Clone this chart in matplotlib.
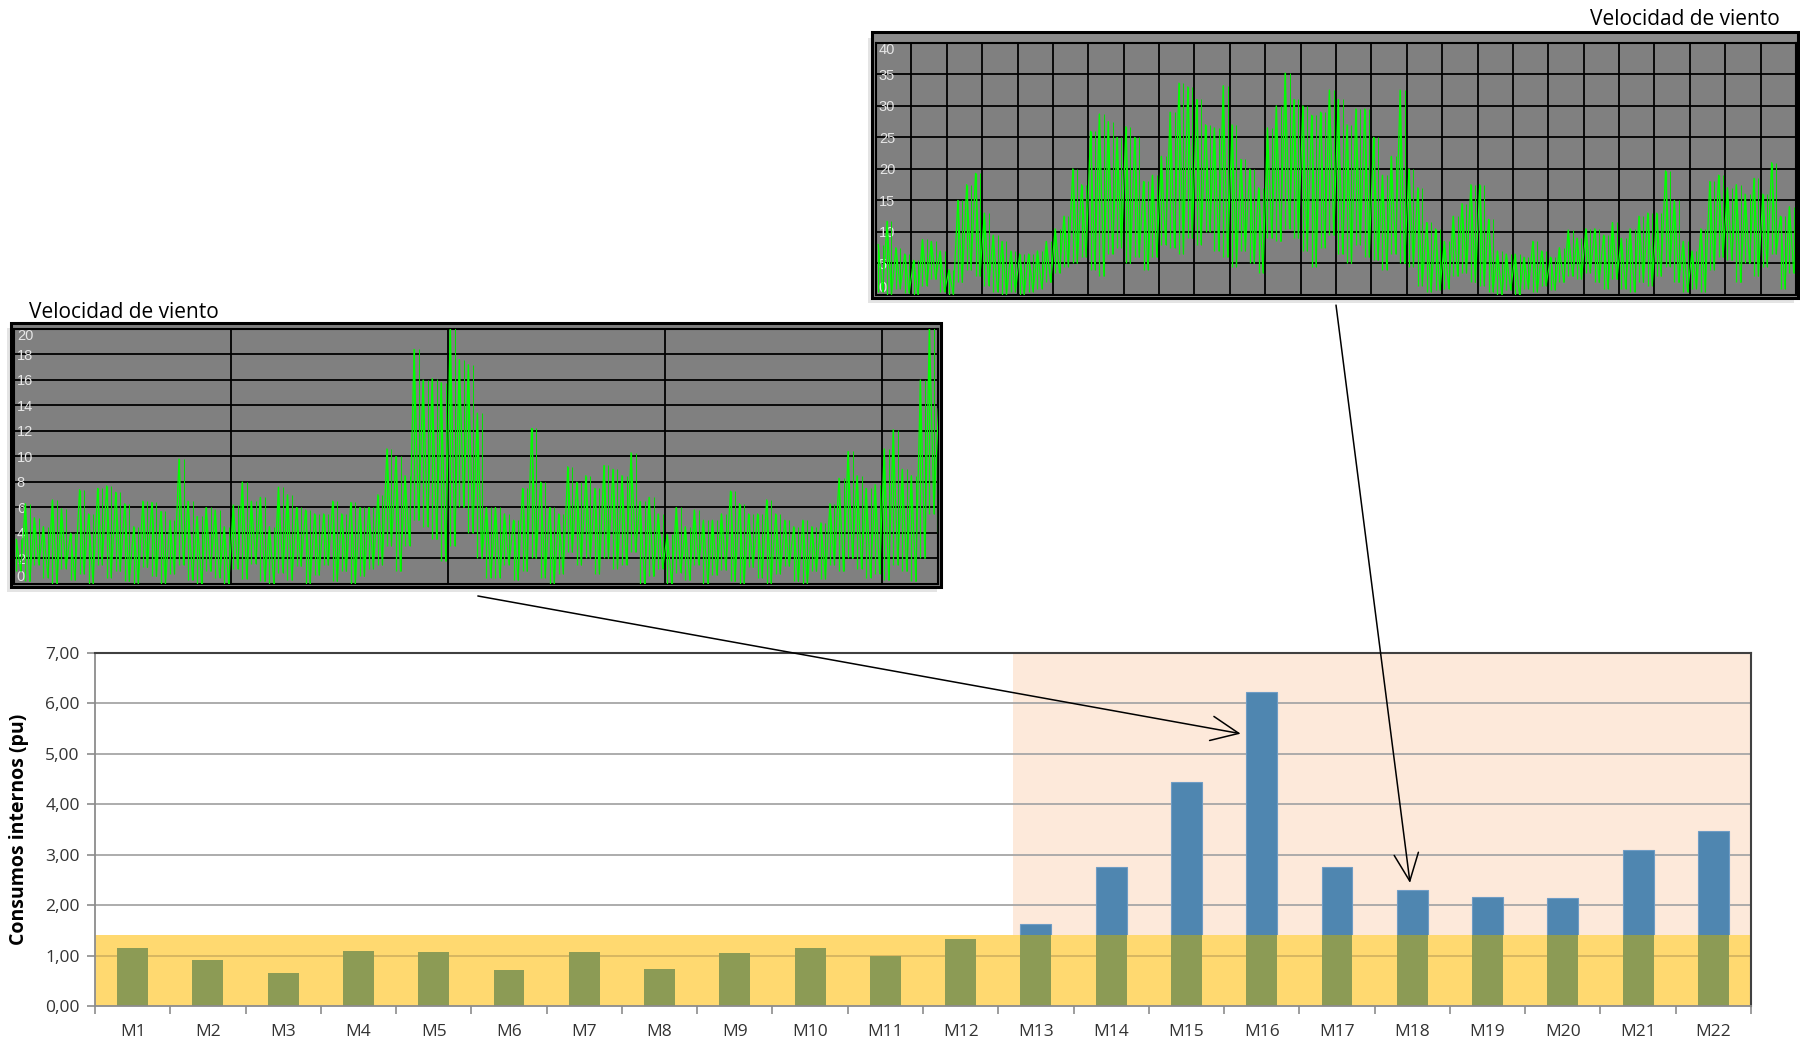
import numpy as np
import matplotlib.pyplot as plt
from matplotlib.patches import Rectangle

plt.rcParams['font.family'] = ['Open Sans', 'DejaVu Sans']

# consumos internos por medida
meses = ['M%d' % i for i in range(1, 23)]
consumos = [1.16, 0.91, 0.66, 1.09, 1.07, 0.71, 1.07, 0.73, 1.05, 1.16, 1.00,
            1.32, 1.62, 2.76, 4.45, 6.22, 2.76, 2.30, 2.17, 2.14, 3.10, 3.47]
limite = 1.4        # franja amarilla
inicio_zona = 11.7  # zona sombreada (M13 en adelante)

# velocidad de viento, grafico de abajo: max/min por hora
v1_max = [3.5, 6.3, 5.2, 4.5, 6.6, 5.9, 4.0, 7.4, 5.5, 7.5,
          7.7, 7.2, 6.3, 4.5, 6.5, 6.4, 5.7, 5.0, 9.8, 6.5,
          5.3, 6.0, 5.8, 4.5, 6.2, 8.0, 6.5, 6.8, 4.5, 7.6,
          7.0, 6.0, 5.8, 5.5, 5.5, 6.5, 5.5, 6.4, 6.0, 6.0,
          7.0, 10.6, 10.0, 8.5, 18.4, 16.0, 16.1, 15.8, 20.2, 17.6,
          17.2, 13.4, 6.0, 6.0, 5.5, 5.0, 7.5, 12.2, 8.0, 6.0,
          5.5, 9.2, 8.0, 8.5, 7.5, 9.3, 9.0, 8.5, 10.3, 6.5,
          6.8, 5.5, 3.9, 6.0, 4.5, 5.8, 5.0, 5.0, 5.5, 7.3,
          6.3, 5.5, 5.5, 6.6, 5.5, 5.0, 4.5, 5.0, 4.5, 4.8,
          6.3, 8.3, 10.4, 8.5, 7.5, 7.8, 10.6, 12.1, 9.0, 8.5,
          16.0, 20.2, 13.8]
v1_min = [1.0, 0.2, 1.5, 0.5, 0.0, 1.2, 0.3, 0.8, 0.0, 1.5,
          0.5, 1.0, 0.2, 0.0, 1.3, 0.6, 0.0, 0.8, 1.5, 0.3,
          0.0, 1.0, 0.5, 0.0, 1.2, 0.4, 1.6, 0.2, 0.0, 0.9,
          0.3, 1.4, 0.0, 0.7, 1.5, 0.2, 1.0, 0.0, 0.6, 1.2,
          1.5, 3.0, 1.0, 3.0, 5.0, 4.5, 3.5, 1.8, 3.0, 6.0,
          4.0, 2.0, 0.5, 0.5, 1.5, 0.3, 1.0, 2.0, 0.5, 0.0,
          0.8, 2.5, 1.5, 2.0, 0.8, 2.0, 1.2, 1.5, 2.5, 0.0,
          0.6, 1.2, 0.0, 0.9, 0.3, 1.5, 0.0, 0.7, 1.1, 0.2,
          0.0, 1.3, 0.5, 0.0, 0.8, 1.4, 0.2, 0.0, 1.0, 0.4,
          1.5, 1.0, 2.0, 1.2, 0.5, 0.8, 0.3, 1.5, 1.0, 0.2,
          2.0, 5.5, 4.0]

# velocidad de viento, grafico de arriba: max/min cada 6 horas (26 dias)
v2_max = [8, 11.7, 7.5, 6.5, 5.5, 8.8, 8.5, 7, 4, 15, 17.5, 19.3,
          13, 9.5, 8.5, 7, 6.5, 6.5, 7, 8.5, 10.5, 12.5, 20, 17.5,
          26, 28.7, 27.5, 25, 26.7, 25, 18, 19, 22, 29, 33.6, 33,
          31, 27, 26.5, 33.2, 27, 21.5, 20, 17, 26.5, 30, 35.2, 31,
          30, 28.5, 29, 32.5, 31, 27, 29.5, 29.5, 25, 19, 22, 32.5,
          20, 17, 11.5, 10.5, 8.5, 12.5, 14.5, 17.5, 17.5, 12, 7, 6.5,
          6.5, 6, 8.5, 7, 6, 7.5, 10.3, 9, 10.5, 10.5, 9.5, 11.5,
          9, 10.5, 12.5, 13, 13, 19.7, 15, 8.5, 7, 10.5, 18, 19,
          17, 17.5, 16, 18.5, 16, 21, 12.5, 14]
v2_min = [0.5, 0.0, 1.0, 0.3, 0.0, 1.5, 2.5, 0.5, 0.0, 2.0, 4.0, 3.0,
          1.5, 0.5, 0.0, 0.5, 0.0, 0.5, 1.0, 2.0, 3.5, 4.5, 5.0, 6.0,
          4.0, 3.0, 6.5, 7.5, 5.0, 6.0, 4.0, 6.0, 8.0, 7.5, 6.5, 9.0,
          8.0, 10.0, 7.0, 6.0, 4.5, 7.0, 5.0, 3.5, 9.0, 8.5, 10.5, 9.0,
          7.0, 4.5, 7.5, 9.5, 6.5, 5.0, 8.0, 6.0, 5.5, 4.0, 6.5, 5.0,
          4.5, 1.5, 0.5, 0.8, 1.0, 3.0, 3.5, 2.0, 1.5, 0.5, 0.0, 0.8,
          0.0, 1.0, 0.5, 1.5, 0.8, 2.0, 3.0, 2.5, 3.5, 2.0, 1.0, 2.5,
          1.0, 0.5, 2.0, 1.5, 3.0, 4.5, 2.0, 0.5, 1.0, 0.5, 4.0, 6.0,
          5.5, 2.0, 5.0, 3.0, 4.5, 6.5, 1.0, 3.5]


def zigzag(vmax, vmin, paso):
    # alterna maximo y minimo dentro de cada intervalo
    n = len(vmax)
    x = np.empty(2 * n)
    y = np.empty(2 * n)
    x[0::2] = np.arange(n) * paso + 0.25 * paso
    x[1::2] = np.arange(n) * paso + 0.75 * paso
    y[0::2] = vmax
    y[1::2] = vmin
    return x, y


def panel_viento(ax, vmax, vmin, paso, xmax, xgrid, ymax, ystep):
    ax.set_facecolor('#808080')
    x, y = zigzag(vmax, vmin, paso)
    ax.plot(x, y, color='#00ff00', lw=0.9, zorder=3)
    # trazos verticales de cada intervalo (max a min)
    ax.vlines(x[0::2], vmin, vmax, color='#00ff00', lw=0.9, zorder=3)
    ax.vlines(x[1::2], vmin, vmax, color='#00e600', lw=0.7, zorder=3)
    ax.set_xlim(0, xmax)
    ax.set_ylim(0, ymax)
    ax.set_xticks(xgrid)
    ax.set_xticklabels([])
    ticks = np.arange(0, ymax + 1, ystep)
    ax.set_yticks(ticks)
    ax.set_yticklabels([str(int(t)) for t in ticks], family='Liberation Sans')
    ax.tick_params(axis='both', length=0)
    ax.tick_params(axis='y', pad=-2, labelsize=10.5, labelcolor='#e6e6e6')
    labs = ax.get_yticklabels()
    for lab in labs:
        lab.set_horizontalalignment('left')
    labs[0].set_verticalalignment('bottom')
    labs[-1].set_verticalalignment('top')
    ax.grid(True, color='black', lw=1.3)
    ax.set_axisbelow(True)
    for s in ax.spines.values():
        s.set_color('black')
        s.set_linewidth(1.5)


fig = plt.figure(figsize=(18, 10.43), dpi=100)

# marcos y sombras de los graficos de viento
for (x0, y0, w, h, fc) in [(0.00611, 0.43720, 0.51667, 0.25312, '#808080'),
                           (0.48444, 0.71429, 0.51444, 0.25455, '#8a8a8a')]:
    fig.patches.append(Rectangle((x0 - 0.002, y0 - 0.005), w, h, transform=fig.transFigure,
                                 fc='#e4e4e4', ec='none', zorder=-3))
    fig.patches.append(Rectangle((x0, y0), w, h, transform=fig.transFigure,
                                 fc=fc, ec='black', lw=2.2, zorder=-2))

ax_bar = fig.add_axes([0.05278, 0.03547, 0.92, 0.33845])
ax_w1 = fig.add_axes([0.00778, 0.44008, 0.51333, 0.24449])
ax_w2 = fig.add_axes([0.48667, 0.71716, 0.51111, 0.24190])

panel_viento(ax_w1, v1_max, v1_min, 1.0, 102.2, np.arange(0, 102, 24), 20, 2)
panel_viento(ax_w2, v2_max, v2_min, 0.25, 26, np.arange(0, 26, 1), 40, 5)

ax_w1.text(0.016, 1.043, 'Velocidad de viento', transform=ax_w1.transAxes,
           ha='left', va='baseline', fontsize=15, color='black')
ax_w2.text(0.9826, 1.071, 'Velocidad de viento', transform=ax_w2.transAxes,
           ha='right', va='baseline', fontsize=15, color='black')

# grafico de barras
xs = np.arange(len(meses))
ax_bar.axvspan(inicio_zona, len(meses) - 0.5, color='#fde9da', zorder=0.2, lw=0)
ax_bar.bar(xs, consumos, width=0.41, color='#4f86b0', edgecolor='#6f9cc4', lw=0.8, zorder=1)
ax_bar.axhspan(0, limite, color='#ffd970', zorder=1.5, lw=0)
ax_bar.axhline(1.0, color='#d4b460', lw=1.3, zorder=1.6)
ax_bar.bar(xs, np.minimum(consumos, limite), width=0.41, color='#8c9b55', lw=0, zorder=2)

ax_bar.set_xlim(-0.5, len(meses) - 0.5)
ax_bar.set_ylim(0, 7)
ax_bar.set_yticks(np.arange(0, 8, 1))
ax_bar.set_yticklabels([('%.2f' % v).replace('.', ',') for v in range(8)])
ax_bar.set_xticks(xs)
ax_bar.set_xticklabels(meses)
ax_bar.set_xticks(np.arange(-0.5, len(meses), 1), minor=True)
ax_bar.tick_params(axis='x', which='major', length=0, pad=13)
ax_bar.tick_params(axis='x', which='minor', length=6, width=1.2, color='#8c8c8c', direction='out')
ax_bar.tick_params(axis='y', length=6, width=1.2, color='#8c8c8c', pad=5)
ax_bar.tick_params(axis='both', labelsize=12.5, labelcolor='#333333')
ax_bar.grid(True, axis='y', color='#a6a6a6', lw=1.3)
ax_bar.set_axisbelow(True)
for s in ['top', 'right']:
    ax_bar.spines[s].set_color('#404040')
    ax_bar.spines[s].set_linewidth(1.5)
for s in ['left', 'bottom']:
    ax_bar.spines[s].set_color('#8c8c8c')
    ax_bar.spines[s].set_linewidth(1.3)
ax_bar.set_ylabel('Consumos internos (pu)', fontsize=14, fontweight='bold', color='black')
ax_bar.yaxis.set_label_coords(-0.04, 0.5)

# flechas desde cada grafico de viento a su barra
flecha = dict(arrowstyle='->,head_length=0.9,head_width=0.4', lw=1.1, color='black',
              mutation_scale=22, shrinkA=0, shrinkB=0)
ax_bar.annotate('', xy=(14.72, 5.40), xycoords='data', xytext=(0.502, -0.047),
                textcoords=ax_w1.transAxes, arrowprops=flecha, annotation_clip=False)
ax_bar.annotate('', xy=(16.97, 2.44), xycoords='data', xytext=(0.5, -0.04),
                textcoords=ax_w2.transAxes, arrowprops=flecha, annotation_clip=False)

fig.savefig('out.png', dpi=100, facecolor='white')
